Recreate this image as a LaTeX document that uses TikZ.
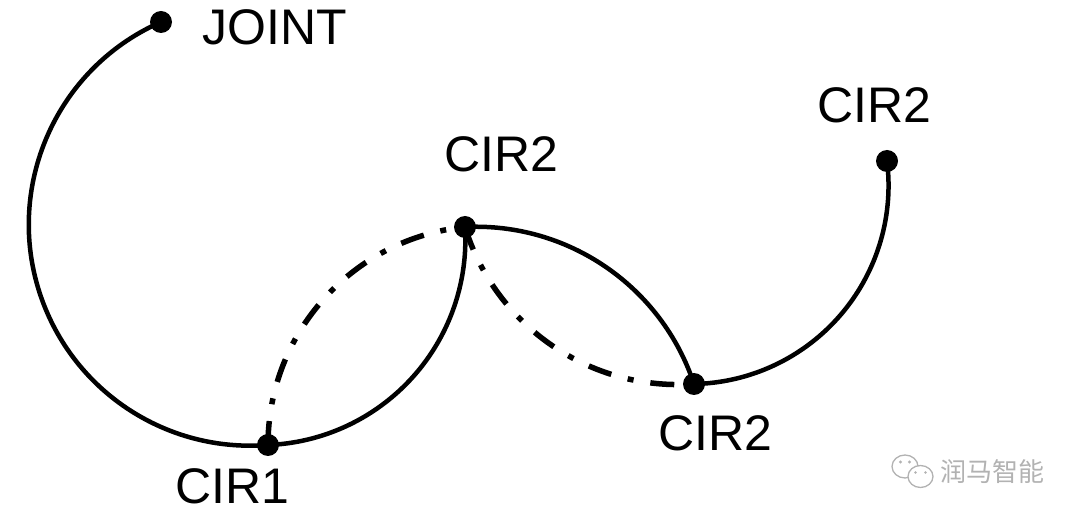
\documentclass[tikz,border=0pt]{standalone}
\usepackage{fontspec}
\setmainfont{Liberation Sans}
\newfontfamily\cjkfont{Noto Sans CJK SC}
\definecolor{wmgray}{RGB}{178,178,178}
\begin{document}
\begin{tikzpicture}[x=1pt,y=1pt,
  pt/.style={circle,fill=black,inner sep=0pt,minimum size=22pt},
  lbl/.style={inner sep=0pt,font=\fontsize{50}{60}\selectfont},
  solidarc/.style={line width=4.5pt},
  dasharc/.style={line width=5.5pt,dash pattern=on 24pt off 17pt on 6pt off 17pt}]
\useasboundingbox (0,0) rectangle (1080,520);
% points
\node[pt] (J)   at (161,498) {};
\node[pt] (C1)  at (268,75)  {};
\node[pt] (C2a) at (465,293) {};
\node[pt] (C2b) at (694,136) {};
\node[pt] (C2c) at (887,359) {};
% labels
\node[lbl] (lJ)   at (275,492.5) {JOINT};
\node[lbl] (lC1)  at (232,33.5)  {CIR1};
\node[lbl] (lC2a) at (501,366)   {CIR2};
\node[lbl] (lC2b) at (715,87)    {CIR2};
\node[lbl] (lC2c) at (874.5,414.5) {CIR2};
% arcs
\draw[solidarc] (J.center)   arc[start angle=113.73, end angle=274.67, radius=221.2];
\draw[solidarc] (C1.center)  arc[start angle=-87.77, end angle=3.57, radius=205.36];
\draw[dasharc]  (C1.center)  arc[start angle=180, end angle=95.79, radius=219.1];
\draw[solidarc] (C2a.center) arc[start angle=92.74, end angle=18.39, radius=229.75];
\draw[dasharc]  (C2a.center) arc[start angle=197.02, end angle=274.12, radius=222.77];
\draw[solidarc] (C2b.center) arc[start angle=271.15, end angle=367.09, radius=198.53];
% watermark
\draw[wmgray,line width=1.3pt,fill=white] (905,53.5) ellipse[x radius=13,y radius=11.5];
\fill[wmgray] (900.5,58) circle[radius=1.6] (909.5,58) circle[radius=1.6];
\draw[wmgray,line width=1.3pt,fill=white] (920.5,43.5) ellipse[x radius=12.5,y radius=11];
\fill[wmgray] (915.5,47.5) circle[radius=1.4] (925.5,47.5) circle[radius=1.4];
\node[inner sep=0pt,text=wmgray,font=\cjkfont\fontsize{26}{30}\selectfont] (wm) at (992.5,48.5) {润马智能};
\end{tikzpicture}
\end{document}
